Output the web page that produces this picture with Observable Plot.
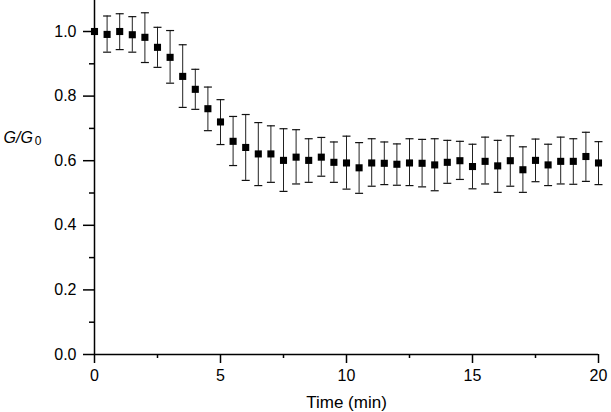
<!DOCTYPE html>
<html>
<head>
<meta charset="utf-8">
<script src="https://cdn.jsdelivr.net/npm/d3@7"></script>
<script src="https://cdn.jsdelivr.net/npm/@observablehq/plot@0.6"></script>
<style>
  html, body { margin: 0; padding: 0; background: white; }
  svg { display: block; }
</style>
</head>
<body>
<div id="chart"></div>
<script>
// Time (min)
const times = [0, 0.5, 1, 1.5, 2, 2.5, 3, 3.5, 4, 4.5, 5, 5.5, 6, 6.5, 7, 7.5, 8, 8.5, 9, 9.5,
  10, 10.5, 11, 11.5, 12, 12.5, 13, 13.5, 14, 14.5, 15, 15.5, 16, 16.5, 17, 17.5, 18, 18.5, 19, 19.5, 20];
// G/G0 mean
const ratio = [1.000, 0.991, 1.000, 0.990, 0.982, 0.951, 0.920, 0.861, 0.821, 0.761, 0.720, 0.660, 0.641, 0.621, 0.621, 0.601, 0.611, 0.601, 0.611, 0.595,
  0.593, 0.578, 0.593, 0.592, 0.589, 0.593, 0.592, 0.587, 0.595, 0.600, 0.582, 0.598, 0.584, 0.600, 0.572, 0.601, 0.587, 0.598, 0.598, 0.613, 0.593];
// error bar lower ends
const lower = [null, 0.936, 0.944, 0.936, 0.904, 0.889, 0.840, 0.765, 0.759, 0.693, 0.650, 0.585, 0.539, 0.523, 0.533, 0.505, 0.528, 0.533, 0.552, 0.533,
  0.512, 0.499, 0.521, 0.526, 0.524, 0.523, 0.519, 0.507, 0.530, 0.542, 0.513, 0.528, 0.502, 0.521, 0.502, 0.535, 0.523, 0.528, 0.527, 0.536, 0.526];
// error bar upper ends
const upper = [null, 1.048, 1.055, 1.046, 1.058, 1.013, 1.003, 0.959, 0.883, 0.828, 0.789, 0.737, 0.743, 0.718, 0.708, 0.699, 0.696, 0.668, 0.672, 0.658,
  0.676, 0.656, 0.668, 0.658, 0.652, 0.668, 0.666, 0.668, 0.663, 0.660, 0.651, 0.673, 0.663, 0.677, 0.643, 0.667, 0.651, 0.673, 0.668, 0.688, 0.659];

const xMajorTicks = [0, 5, 10, 15, 20];
const xMinorTicks = [2.5, 7.5, 12.5, 17.5];
const yMajorTicks = [0, 0.2, 0.4, 0.6, 0.8, 1.0];
const yMinorTicks = [0.1, 0.3, 0.5, 0.7, 0.9];
const xLabel = "Time (min)";
const yLabelParts = ["G/G", "0"];
const yLabelAt = [0.67];

const data = times.map((t, i) => ({t, v: ratio[i], lo: lower[i], hi: upper[i]}));
const errData = data.filter(d => d.lo != null);

const capSymbol = {
  draw(context, size) {
    const r = Math.sqrt(size / Math.PI);
    context.moveTo(-r, 0);
    context.lineTo(r, 0);
  }
};

const chart = Plot.plot({
  width: 611,
  height: 412,
  marginLeft: 94,
  marginRight: 13,
  marginTop: 0,
  marginBottom: 58,
  style: {fontFamily: "'Liberation Sans', Arial, sans-serif", fontSize: "16px", background: "white", color: "black"},
  x: {domain: [0, 20]},
  y: {domain: [0, 1.096]},
  marks: [
    Plot.axisY(yMajorTicks, {tickSize: 11, tickPadding: 7, tickFormat: d3.format(".1f"), label: null, strokeWidth: 1.5}),
    Plot.axisY(yMinorTicks, {tickSize: 5, text: null, label: null, strokeWidth: 1.5}),
    Plot.axisX(xMajorTicks, {tickSize: 9, tickPadding: 6, tickFormat: d3.format("d"), label: null, strokeWidth: 1.5}),
    Plot.axisX(xMinorTicks, {tickSize: 4, text: null, label: null, strokeWidth: 1.5}),
    Plot.axisX([], {label: xLabel, labelAnchor: "center", labelArrow: "none", labelOffset: 53, fontSize: 17}),
    Plot.ruleX([0], {strokeWidth: 1.5}),
    Plot.ruleY([0], {strokeWidth: 1.5}),
    Plot.ruleX(errData, {x: "t", y1: "lo", y2: "hi", stroke: "#222", strokeWidth: 1}),
    Plot.dot(errData, {x: "t", y: "hi", symbol: capSymbol, r: 4, stroke: "#111", strokeWidth: 1.2, fill: "none"}),
    Plot.dot(errData, {x: "t", y: "lo", symbol: capSymbol, r: 4, stroke: "#111", strokeWidth: 1.2, fill: "none"}),
    Plot.dot(data, {x: "t", y: "v", symbol: "square", r: 4, fill: "black", stroke: "none"}),
    Plot.text(yLabelAt, {y: d => d, text: () => yLabelParts.join(""), frameAnchor: "left", textAnchor: "start", dx: -91, fontSize: 16})
  ]
});

// Style the y label: italic G's with subscript 0
d3.select(chart).selectAll("text").each(function() {
  if (this.textContent === yLabelParts.join("")) {
    const t = d3.select(this);
    t.text(null);
    t.append("tspan").attr("font-style", "italic").text(yLabelParts[0]);
    t.append("tspan").attr("font-size", "12px").attr("dy", "2").attr("dx", "2").text(yLabelParts[1]);
  }
});

document.getElementById("chart").appendChild(chart);
</script>
</body>
</html>
